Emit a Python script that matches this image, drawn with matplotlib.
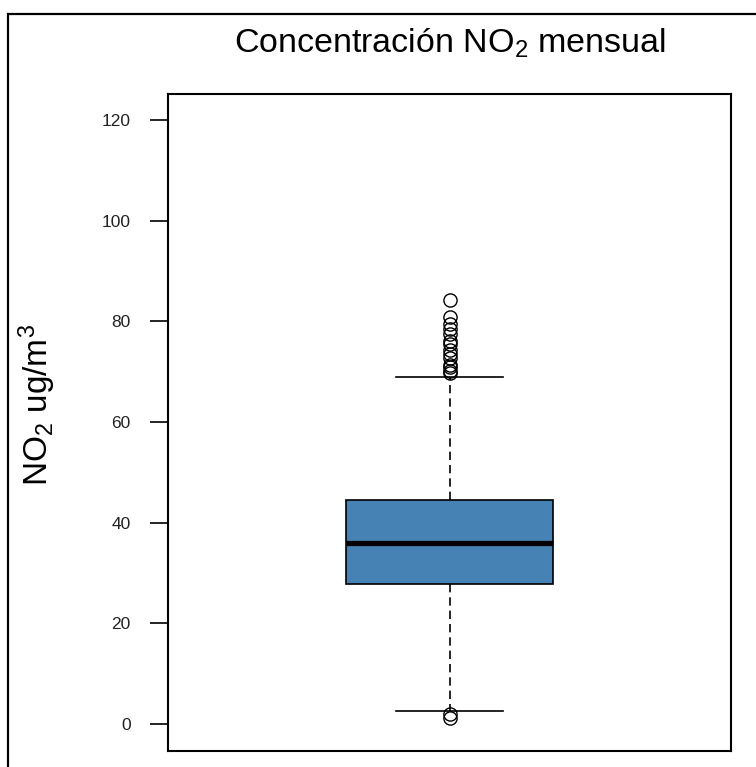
import matplotlib.pyplot as plt
from matplotlib.patches import Rectangle

plt.rcParams['font.family'] = ['Liberation Sans', 'DejaVu Sans']
plt.rcParams['mathtext.default'] = 'regular'

# summary stats of the monthly NO2 concentrations (ug/m3)
q1 = 27.8
median = 36.0
q3 = 44.5
whisker_low = 2.5
whisker_high = 68.9
outliers = [84.2, 80.9, 79.4, 78.5, 77.6, 76.2, 75.5, 74.3, 73.6, 72.7,
            71.4, 70.9, 70.2, 69.7, 1.1, 2.0]
yticks = [0, 20, 40, 60, 80, 100, 120]

stats = [{'q1': q1, 'med': median, 'q3': q3,
          'whislo': whisker_low, 'whishi': whisker_high,
          'fliers': outliers, 'label': ''}]

fig = plt.figure(figsize=(7.56, 7.67), dpi=100)
ax = fig.add_axes([168 / 756, 16 / 767, 563 / 756, 657 / 767])

ax.bxp(stats, positions=[0.5], widths=[0.366], capwidths=[0.19],
       patch_artist=True,
       boxprops=dict(facecolor='#4682B4', edgecolor='black', linewidth=1.2),
       medianprops=dict(color='black', linewidth=3.8),
       whiskerprops=dict(color='black', linewidth=1.2, linestyle=(0, (5, 3))),
       capprops=dict(color='black', linewidth=1.2),
       flierprops=dict(marker='o', markersize=9.5, markerfacecolor='none',
                       markeredgecolor='black', markeredgewidth=1.0))

ax.set_xlim(0, 1)
ax.set_ylim(-5.36, 125.2)
ax.set_xticks([])
ax.set_yticks(yticks)
ax.tick_params(axis='y', length=13, width=1.2, pad=14, labelsize=12.5,
               labelcolor='#222222')
for s in ax.spines.values():
    s.set_linewidth(1.5)

ax.set_ylabel('NO$_2$ ug/m$^3$', fontsize=24)
ax.yaxis.set_label_coords(-0.195, 0.527)
ax.set_title('Concentración NO$_2$ mensual', fontsize=24.5, pad=30)

# outer frame, only its top and left edges fall inside the picture
fig.patches.append(Rectangle((8 / 756, -0.5), 2, 0.5 + 1 - 14 / 767,
                             transform=fig.transFigure, fill=False,
                             edgecolor='black', linewidth=1.6))

fig.savefig('out.png', dpi=100)
